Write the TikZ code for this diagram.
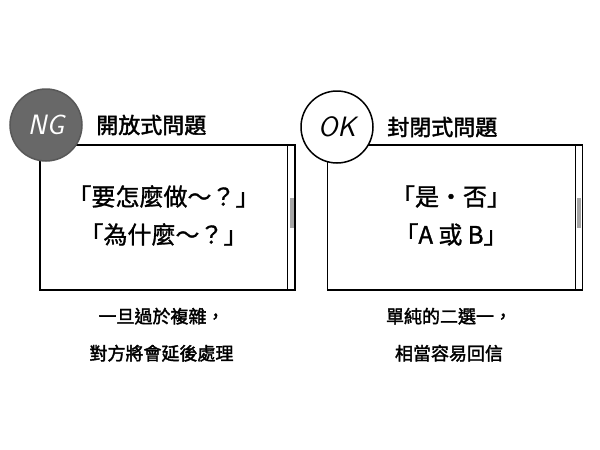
\documentclass[tikz,border=0pt]{standalone}
\usepackage{fontspec}
\setmainfont{Noto Sans CJK TC}
\newfontfamily\heavycjk[FakeBold=1.2]{Noto Sans CJK TC}
\newfontfamily\handcjk[FakeBold=2]{Noto Sans CJK TC}
\usetikzlibrary{positioning, calc}
\definecolor{ngfill}{HTML}{686868}
\definecolor{thumbgray}{HTML}{A6A6A6}

\begin{document}
\begin{tikzpicture}[
            x=1pt, y=-1pt,
            node distance=8pt and 10pt,
            % Styles
            panel/.style={rectangle, draw, line width=1.5pt,
              minimum width=255pt, minimum height=145pt, inner sep=0pt},
            badge/.style={circle, draw, line width=1.5pt, minimum size=72pt,
              inner sep=0pt, font=\fontsize{28}{30}\selectfont\sffamily\itshape},
            heading/.style={font=\fontsize{22}{24}\selectfont\handcjk},
            quote/.style={align=center, font=\fontsize{24}{38}\selectfont\heavycjk},
            note/.style={align=center, font=\fontsize{18}{37}\selectfont\handcjk}
          ]
          \useasboundingbox (0,0) rectangle (600,450);
          % 1. Panels (boxes with a scroll strip)
          \node[panel] (panelNG) at (167.5,217.5) {};
          \node[panel] (panelOK) at (455,217.5) {};
          \foreach \p in {panelNG, panelOK} {
            \draw[line width=1.2pt] ($(\p.north east)+(-8,0)$) -- ($(\p.south east)+(-8,0)$);
            \fill[thumbgray] ($(\p.east)+(-6,-20)$) rectangle ($(\p.east)+(-2,10)$);
          }
          % 2. Badges and headings
          \node[badge, fill=ngfill, draw=ngfill!85!black, text=white] (badgeNG) at (46,125) {NG};
          \node[badge, fill=white] (badgeOK) at (337,127) {OK};
          \node[heading, right=of badgeNG] (headNG) {開放式問題};
          \node[heading, right=of badgeOK] (headOK) {封閉式問題};
          % 3. Questions inside the panels
          \node[quote] (quoteNG) at ($(panelNG.center)+(-4,-2)$) {「要怎麼做～？」\\「為什麼～？」};
          \node[quote] (quoteOK) at ($(panelOK.center)+(-4,-2)$) {「是・否」\\「A 或 B」};
          % 4. Notes under the panels
          \node[note] (noteNG) at ($(panelNG.south)+(-6,44)$) {一旦過於複雜，\\對方將會延後處理};
          \node[note] (noteOK) at ($(panelOK.south)+(-6,44)$) {單純的二選一，\\相當容易回信};
        \end{tikzpicture}
\end{document}
